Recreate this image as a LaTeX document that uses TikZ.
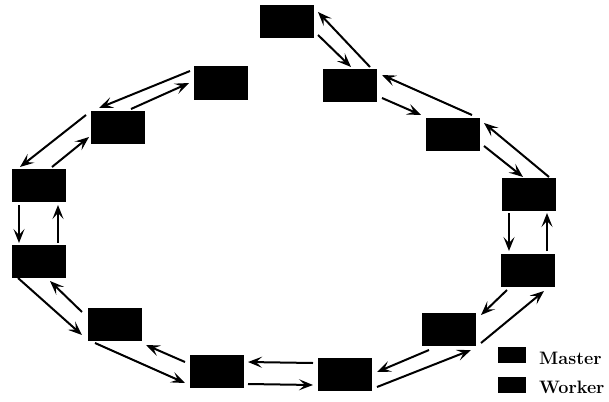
\documentclass[tikz,border=0pt]{standalone}
\usepackage{fontspec}
\usetikzlibrary{arrows.meta,calc}
\begin{document}
\begin{tikzpicture}[x=1pt,y=-1pt,
  blk/.style={draw=none,fill=black,minimum width=54pt,minimum height=33pt,inner sep=0pt},
  lgd/.style={draw=none,fill=black,minimum width=28pt,minimum height=16pt,inner sep=0pt},
  arr/.style={line width=2pt,-{Stealth[length=14pt,width=11pt,inset=6pt]}},
  lbl/.style={anchor=base west,inner sep=0pt,font=\fontsize{18}{20}\selectfont\bfseries}]
\useasboundingbox (0,0) rectangle (609,401);
\node[blk] (N0) at (287,22) {};
\node[blk] (R1) at (350,85.5) {};
\node[blk] (R2) at (452.5,134) {};
\node[blk] (R3) at (529,194.5) {};
\node[blk] (R4) at (527.5,270.5) {};
\node[blk] (R5) at (448.5,329.5) {};
\node[blk] (B2) at (345,374) {};
\node[blk] (B1) at (216.5,371.5) {};
\node[blk] (L5) at (114.5,324.5) {};
\node[blk] (L4) at (38.5,261.5) {};
\node[blk] (L3) at (39,185.5) {};
\node[blk] (L2) at (117.5,127.5) {};
\node[blk] (L1) at (221,83) {};
% N0-R1
\draw[arr] ($(N0)+(31,13)$) -- ($(R1)+(1,-18.5)$);
\draw[arr] ($(R1)+(20,-18.5)$) -- ($(N0)+(31,-10)$);
% R1-R2
\draw[arr] ($(R1)+(32,12.5)$) -- ($(R2)+(-31.5,-19)$);
\draw[arr] ($(R2)+(19.5,-19)$) -- ($(R1)+(32,-10.5)$);
% R2-R3
\draw[arr] ($(R2)+(31.5,12)$) -- ($(R3)+(-6,-17.5)$);
\draw[arr] ($(R3)+(20,-17.5)$) -- ($(R2)+(31.5,-11)$);
% R3-R4
\draw[arr] ($(R3)+(-20,18.5)$) -- ($(R4)+(-18.5,-19.5)$);
\draw[arr] ($(R4)+(19.5,-19.5)$) -- ($(R3)+(18,18.5)$);
% R4-R5
\draw[arr] ($(R4)+(-20.5,19.5)$) -- ($(R5)+(32.5,-14.5)$);
\draw[arr] ($(R5)+(32.5,13.5)$) -- ($(R4)+(16.5,20.5)$);
% R5-B2
\draw[arr] ($(R5)+(-19.5,20.5)$) -- ($(B2)+(32,-2)$);
\draw[arr] ($(B2)+(32,13)$) -- ($(R5)+(22.5,20.5)$);
% B2-B1
\draw[arr] ($(B2)+(-32,-11)$) -- ($(B1)+(31.5,-9.5)$);
\draw[arr] ($(B1)+(31.5,12.5)$) -- ($(B2)+(-32,11)$);
% B1-L5
\draw[arr] ($(B1)+(-31.5,-9.5)$) -- ($(L5)+(31.5,20.5)$);
\draw[arr] ($(L5)+(-19.5,18.5)$) -- ($(B1)+(-31.5,11.5)$);
% L5-L4
\draw[arr] ($(L5)+(-32.5,-12.5)$) -- ($(L4)+(11.5,19.5)$);
\draw[arr] ($(L4)+(-20.5,16.5)$) -- ($(L5)+(-32.5,10.5)$);
% L4-L3
\draw[arr] ($(L3)+(-20,19.5)$) -- ($(L4)+(-19.5,-18.5)$);
\draw[arr] ($(L4)+(19.5,-18.5)$) -- ($(L3)+(19,19.5)$);
% L3-L2
\draw[arr] ($(L2)+(-31.5,-12.5)$) -- ($(L3)+(-19,-18.5)$);
\draw[arr] ($(L3)+(13,-18.5)$) -- ($(L2)+(-28.5,9.5)$);
% L2-L1
\draw[arr] ($(L1)+(-31,-12)$) -- ($(L2)+(-18.5,-19.5)$);
\draw[arr] ($(L2)+(13.5,-18.5)$) -- ($(L1)+(-32,0)$);
% legend
\node[lgd] (LM) at (512,355) {};
\node[lgd] (LW) at (512,385) {};
\node[lbl] (TM) at (539,364) {Master};
\node[lbl] (TW) at (539,393) {Worker};
\end{tikzpicture}
\end{document}
